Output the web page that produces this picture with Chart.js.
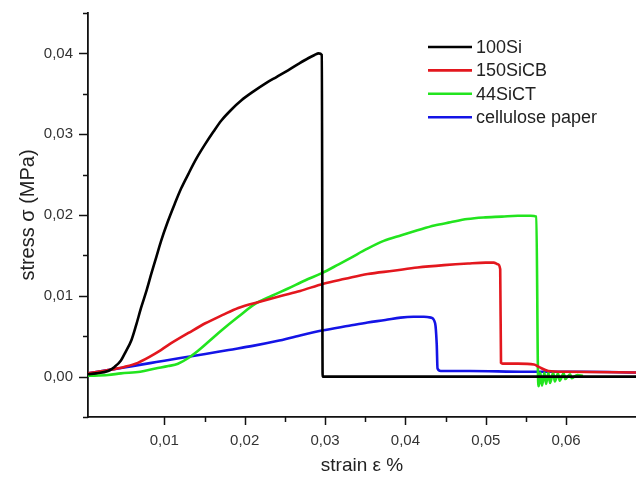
<!DOCTYPE html>
<html lang="en">
<head>
    <meta charset="UTF-8">
    <title>stress strain</title>
    <script src="https://cdn.jsdelivr.net/npm/chart.js"></script>
    <style>
        body { margin: 0; background: #fff; }
        canvas { display: block; }
    </style>
</head>
<body>
    <canvas id="stressChart" width="636" height="477"></canvas>

    <script>
        // values (strain, stress in MPa)
        var labels = ['100Si', '150SiCB', '44SiCT', 'cellulose paper'];
        var colors = ['#000000', '#e3171e', '#22e41e', '#1414e6'];

        var strain100Si = [0.0005, 0.0015, 0.0030, 0.0038, 0.0046, 0.0052, 0.0059, 0.0065, 0.0071, 0.0078, 0.0084, 0.0090, 0.0096, 0.0104, 0.0113, 0.0121, 0.0130, 0.0140, 0.0151, 0.0161, 0.0171, 0.0183, 0.0196, 0.0211, 0.0226, 0.0240, 0.0254, 0.0267, 0.0279, 0.0287, 0.0292, 0.0296, 0.0297, 0.0690];
        var stress100Si = [0.0003, 0.0004, 0.0007, 0.0012, 0.0020, 0.0031, 0.0045, 0.0064, 0.0085, 0.0107, 0.0128, 0.0148, 0.0168, 0.0191, 0.0214, 0.0233, 0.0251, 0.0270, 0.0288, 0.0303, 0.0317, 0.0330, 0.0342, 0.0353, 0.0363, 0.0371, 0.0379, 0.0387, 0.0394, 0.0398, 0.0400, 0.0398, 0.0000, 0.0000];

        var strain150SiCB = [0.0005, 0.0030, 0.0050, 0.0067, 0.0088, 0.0108, 0.0130, 0.0151, 0.0172, 0.0192, 0.0220, 0.0246, 0.0269, 0.0298, 0.0325, 0.0353, 0.0385, 0.0415, 0.0448, 0.0478, 0.0500, 0.0510, 0.0515, 0.0518, 0.0519, 0.0521, 0.0540, 0.0560, 0.0566, 0.0578, 0.0600, 0.0690];
        var stress150SiCB = [0.0004, 0.0008, 0.0012, 0.0017, 0.0028, 0.0041, 0.0054, 0.0066, 0.0076, 0.0085, 0.0093, 0.0100, 0.0106, 0.0115, 0.0121, 0.0127, 0.0131, 0.0135, 0.0138, 0.0140, 0.0141, 0.0141, 0.0139, 0.0133, 0.0017, 0.0016, 0.0016, 0.0015, 0.0012, 0.0007, 0.0006, 0.0005];

        var strain44SiCT = [0.0005, 0.0030, 0.0046, 0.0070, 0.0089, 0.0105, 0.0117, 0.0130, 0.0142, 0.0156, 0.0171, 0.0192, 0.0213, 0.0234, 0.0254, 0.0275, 0.0296, 0.0317, 0.0332, 0.0352, 0.0373, 0.0395, 0.0415, 0.0436, 0.0456, 0.0477, 0.0497, 0.0520, 0.0540, 0.0556, 0.0563, 0.0565, 0.0566, 0.0568, 0.0570, 0.0573, 0.0575, 0.0578, 0.0580, 0.0584, 0.0586, 0.0590, 0.0592, 0.0597, 0.0599, 0.0605, 0.0607, 0.0614, 0.0621];
        var stress44SiCT = [0.0001, 0.0002, 0.0004, 0.0006, 0.0010, 0.0013, 0.0016, 0.0023, 0.0032, 0.0044, 0.0057, 0.0074, 0.0090, 0.0100, 0.0109, 0.0119, 0.0128, 0.0139, 0.0147, 0.0158, 0.0168, 0.0175, 0.0181, 0.0187, 0.0191, 0.0195, 0.0197, 0.0198, 0.0199, 0.0199, 0.0198, 0.0004, -0.0012, 0.0005, -0.0011, 0.0005, -0.0009, 0.0005, -0.0008, 0.0005, -0.0006, 0.0004, -0.0005, 0.0004, -0.0003, 0.0003, -0.0002, 0.0002, 0.0001];

        var strainPaper = [0.0005, 0.0030, 0.0060, 0.0090, 0.0120, 0.0151, 0.0180, 0.0210, 0.0240, 0.0269, 0.0296, 0.0330, 0.0353, 0.0375, 0.0394, 0.0410, 0.0423, 0.0432, 0.0437, 0.0439, 0.0440, 0.0444, 0.0480, 0.0550, 0.0620, 0.0690];
        var stressPaper = [0.0004, 0.0008, 0.0013, 0.0018, 0.0023, 0.0028, 0.0033, 0.0038, 0.0044, 0.0051, 0.0057, 0.0063, 0.0067, 0.0070, 0.0073, 0.0074, 0.0074, 0.0073, 0.0066, 0.0040, 0.0010, 0.0007, 0.0007, 0.0006, 0.0006, 0.0005];

        var xTicks = [0.01, 0.02, 0.03, 0.04, 0.05, 0.06];
        var yTicks = [0.00, 0.01, 0.02, 0.03, 0.04];

        function pairs(xs, ys) {
            var out = [];
            for (var i = 0; i < xs.length; i++) out.push({ x: xs[i], y: ys[i] });
            return out;
        }

        function isMajor(v) {
            return Math.abs(v * 100 - Math.round(v * 100)) < 1e-6;
        }

        function isStep(v) {
            return Math.abs(v * 200 - Math.round(v * 200)) < 1e-6;
        }

        function fmt(v) {
            if (Math.abs(v) < 1e-9) v = 0;
            return v.toFixed(2).replace('.', ',');
        }

        function inList(list, v) {
            for (var i = 0; i < list.length; i++) {
                if (Math.abs(list[i] - v) < 1e-9) return true;
            }
            return false;
        }

        var series = [
            pairs(strain100Si, stress100Si),
            pairs(strain150SiCB, stress150SiCB),
            pairs(strain44SiCT, stress44SiCT),
            pairs(strainPaper, stressPaper)
        ];

        var datasets = [];
        for (var i = 0; i < series.length; i++) {
            datasets.push({
                label: labels[i],
                data: series[i],
                borderColor: colors[i],
                backgroundColor: colors[i],
                borderWidth: 2.6,
                pointRadius: 0,
                cubicInterpolationMode: 'monotone',
                fill: false
            });
        }

        // outward tick marks, long for major, short for minor
        var tickMarks = {
            id: 'tickMarks',
            afterDraw: function (chart) {
                var ctx = chart.ctx;
                var xs = chart.scales.x, ys = chart.scales.y;
                var area = chart.chartArea;
                ctx.save();
                ctx.strokeStyle = '#111';
                ctx.lineWidth = 1.5;
                xs.ticks.forEach(function (t) {
                    if (!isStep(t.value)) return;
                    var px = Math.round(xs.getPixelForValue(t.value)) + 0.5;
                    var len = isMajor(t.value) ? 8 : 5;
                    ctx.beginPath();
                    ctx.moveTo(px, area.bottom);
                    ctx.lineTo(px, area.bottom + len);
                    ctx.stroke();
                });
                ys.ticks.forEach(function (t) {
                    if (!isStep(t.value)) return;
                    var py = Math.round(ys.getPixelForValue(t.value)) + 0.5;
                    var len = isMajor(t.value) ? 9 : 5;
                    ctx.beginPath();
                    ctx.moveTo(area.left, py);
                    ctx.lineTo(area.left - len, py);
                    ctx.stroke();
                });
                ctx.restore();
            }
        };

        // legend box inside the plot, top right
        var insideLegend = {
            id: 'insideLegend',
            afterDraw: function (chart) {
                var ctx = chart.ctx;
                var area = chart.chartArea;
                var x0 = area.left + 340, y0 = area.top + 34;
                ctx.save();
                ctx.font = '18px "Liberation Sans", Arial, sans-serif';
                ctx.textBaseline = 'middle';
                chart.data.datasets.forEach(function (ds, i) {
                    var y = y0 + i * 23.4;
                    ctx.strokeStyle = ds.borderColor;
                    ctx.lineWidth = 2.6;
                    ctx.beginPath();
                    ctx.moveTo(x0, y);
                    ctx.lineTo(x0 + 44, y);
                    ctx.stroke();
                    ctx.fillStyle = '#222';
                    ctx.fillText(ds.label, x0 + 48, y + 1);
                });
                ctx.restore();
            }
        };

        function noPad(scale) {
            scale.paddingLeft = 0;
            scale.paddingRight = 0;
            scale.paddingTop = 0;
            scale.paddingBottom = 0;
        }

        var ctx = document.getElementById('stressChart').getContext('2d');
        var chart = new Chart(ctx, {
            type: 'line',
            data: { datasets: datasets },
            plugins: [tickMarks, insideLegend],
            options: {
                responsive: false,
                animation: false,
                layout: { padding: { top: 13, right: 0, left: 0, bottom: 0 } },
                plugins: {
                    legend: { display: false },
                    tooltip: { enabled: false }
                },
                scales: {
                    x: {
                        type: 'linear',
                        min: 0.0005,
                        max: 0.0687,
                        afterFit: function (scale) { scale.height = 60; noPad(scale); },
                        grid: { display: false, drawTicks: false },
                        border: { display: true, color: '#111', width: 1.8 },
                        ticks: {
                            stepSize: 0.005,
                            autoSkip: false,
                            maxRotation: 0,
                            padding: 15,
                            color: '#333',
                            font: { family: '"Liberation Sans", Arial, sans-serif', size: 15 },
                            callback: function (v) {
                                return inList(xTicks, v) ? fmt(v) : '';
                            }
                        },
                        title: {
                            display: true,
                            text: 'strain ε %',
                            color: '#222',
                            padding: { top: 0, bottom: 0 },
                            font: { family: '"Liberation Sans", Arial, sans-serif', size: 19 }
                        }
                    },
                    y: {
                        type: 'linear',
                        min: -0.005,
                        max: 0.045,
                        afterFit: function (scale) { scale.width = 88; noPad(scale); },
                        grid: { display: false, drawTicks: false },
                        border: { display: true, color: '#111', width: 1.8 },
                        ticks: {
                            stepSize: 0.005,
                            autoSkip: false,
                            padding: 15,
                            color: '#333',
                            font: { family: '"Liberation Sans", Arial, sans-serif', size: 15 },
                            callback: function (v) {
                                return inList(yTicks, v) ? fmt(v) : '';
                            }
                        },
                        title: {
                            display: true,
                            text: 'stress σ (MPa)',
                            color: '#222',
                            padding: { top: 16, bottom: 0 },
                            font: { family: '"Liberation Sans", Arial, sans-serif', size: 20 }
                        }
                    }
                }
            }
        });
    </script>
</body>
</html>
